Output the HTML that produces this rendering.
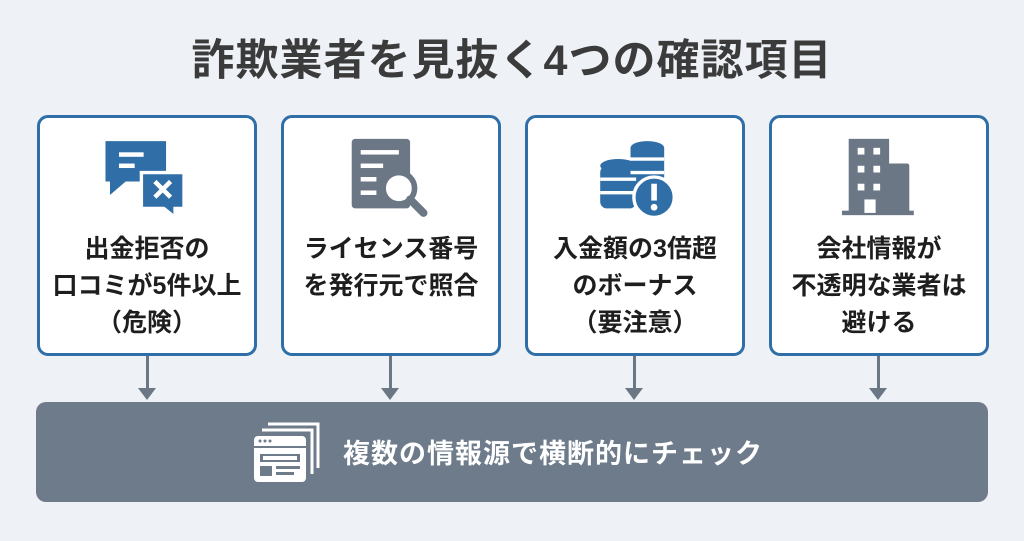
<!DOCTYPE html>
<html><head><meta charset="utf-8"><style>
body{margin:0;width:1024px;height:541px;background:#eef2f7;font-family:"Liberation Sans","Noto Sans CJK JP",sans-serif;position:relative;overflow:hidden}
.t{position:absolute;top:36px;left:0;width:1024px;text-align:center;font-size:43px;line-height:50px;font-weight:bold;color:#3b3b3b;letter-spacing:1px}
.b{position:absolute;top:115px;width:214px;height:235px;border:3px solid #2f6ea6;border-radius:11px;background:#fff;box-sizing:content-box}
.b .tx{position:absolute;top:113px;left:0;width:100%;text-align:center;font-size:25px;font-weight:bold;line-height:37px;color:#1e1e1e}
.b svg{position:absolute;left:50%;transform:translateX(-50%);top:14px}
.ar{position:absolute;top:356px;width:3px;height:34px;background:#6b7784}
.ah{position:absolute;top:388px;width:0;height:0;border-left:9px solid transparent;border-right:9px solid transparent;border-top:12px solid #6b7784}
.bar{position:absolute;left:36px;top:402px;width:952px;height:100px;background:#6d7b8a;border-radius:10px}
.bt{position:absolute;left:343px;top:432px;font-size:27px;font-weight:bold;color:#fff;letter-spacing:1px}
</style></head><body>
<div class="t">詐欺業者を見抜く4つの確認項目</div>

<div class="b" style="left:37px"><svg width="101" height="90" viewBox="0 0 90 80"><path d="M8 8h54v36H26l-14 12v-12H8z" fill="#2f6ea6"/><rect x="20" y="18" width="22" height="4" fill="#fff"/><rect x="20" y="28" width="14" height="4" fill="#fff"/><path d="M40 36h38v32h-8v8l-10-8H40z" fill="#2f6ea6" stroke="#fff" stroke-width="3"/><path d="M52 44l14 14M66 44l-14 14" stroke="#fff" stroke-width="4"/></svg><div class="tx">出金拒否の<br>口コミが5件以上<br>（危険）</div></div>

<div class="b" style="left:281px"><svg width="101" height="90" viewBox="0 0 90 80"><rect x="10" y="6" width="52" height="62" rx="3" fill="#6b7784"/><rect x="18" y="16" width="34" height="4" fill="#fff"/><rect x="18" y="28" width="20" height="4" fill="#fff"/><rect x="18" y="40" width="14" height="4" fill="#fff"/><rect x="18" y="52" width="14" height="4" fill="#fff"/><circle cx="52" cy="50" r="14" fill="#fff" stroke="#6b7784" stroke-width="5"/><path d="M62 60l12 12" stroke="#6b7784" stroke-width="7" stroke-linecap="round"/></svg><div class="tx">ライセンス番号<br>を発行元で照合</div></div>

<div class="b" style="left:525px"><svg width="101" height="90" viewBox="0 0 90 80"><g fill="#2f6ea6"><ellipse cx="56" cy="14" rx="15" ry="6"/><rect x="41" y="14" width="30" height="34"/><ellipse cx="30" cy="30" rx="16" ry="6"/><rect x="14" y="30" width="32" height="38" rx="6"/></g><g stroke="#fff" stroke-width="3" fill="none"><path d="M14 42h32M14 54h32M41 24h30M41 36h30"/></g><circle cx="62" cy="58" r="18" fill="#2f6ea6" stroke="#fff" stroke-width="3"/><rect x="59.5" y="46" width="5" height="15" fill="#fff"/><circle cx="62" cy="67" r="3" fill="#fff"/></svg><div class="tx">入金額の3倍超<br>のボーナス<br>（要注意）</div></div>

<div class="b" style="left:769px"><svg width="101" height="90" viewBox="0 0 90 80"><rect x="18" y="6" width="36" height="66" fill="#6b7784"/><rect x="50" y="28" width="22" height="44" rx="2" fill="#6b7784"/><rect x="12" y="70" width="64" height="4" fill="#6b7784"/><g fill="#fff"><rect x="26" y="14" width="6" height="6"/><rect x="40" y="14" width="6" height="6"/><rect x="26" y="30" width="6" height="6"/><rect x="40" y="30" width="6" height="6"/><rect x="26" y="46" width="6" height="6"/><rect x="40" y="46" width="6" height="6"/><rect x="32" y="60" width="10" height="12"/></g></svg><div class="tx">会社情報が<br>不透明な業者は<br>避ける</div></div>

<div class="ar" style="left:146px"></div><div class="ah" style="left:138px"></div>
<div class="ar" style="left:389px"></div><div class="ah" style="left:381px"></div>
<div class="ar" style="left:633px"></div><div class="ah" style="left:625px"></div>
<div class="ar" style="left:877px"></div><div class="ah" style="left:869px"></div>

<div class="bar"></div>
<svg style="position:absolute;left:252px;top:420px" width="70" height="64" viewBox="0 0 70 64"><path d="M16 4h50v44" fill="none" stroke="#fff" stroke-width="3"/><path d="M10 10h50v44" fill="none" stroke="#fff" stroke-width="3"/><rect x="2" y="16" width="52" height="46" rx="4" fill="#fff"/><rect x="2" y="26" width="52" height="2" fill="#6d7b8a"/><circle cx="8" cy="21" r="1.5" fill="#6d7b8a"/><circle cx="13" cy="21" r="1.5" fill="#6d7b8a"/><circle cx="18" cy="21" r="1.5" fill="#6d7b8a"/><rect x="8" y="34" width="40" height="8" fill="#6d7b8a"/><rect x="11" y="36" width="34" height="4" fill="#fff"/><rect x="8" y="46" width="12" height="10" fill="#6d7b8a"/><rect x="24" y="46" width="24" height="3" fill="#6d7b8a"/><rect x="24" y="52" width="18" height="3" fill="#6d7b8a"/></svg>
<div class="bt">複数の情報源で横断的にチェック</div>
</body></html>
